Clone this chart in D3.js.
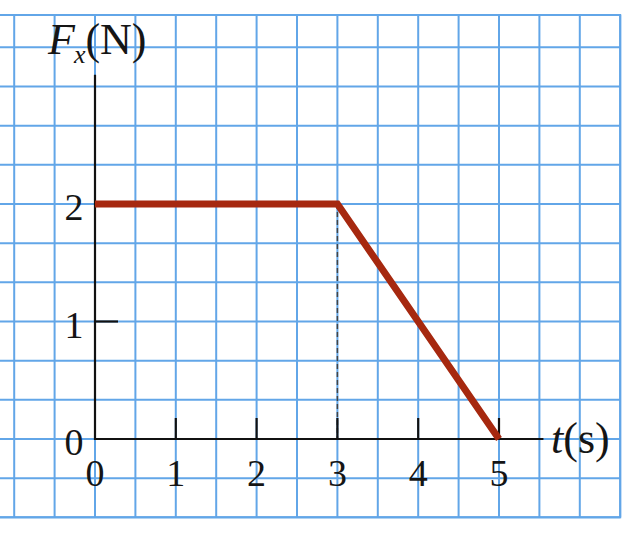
<!DOCTYPE html>
<html>
<head>
<meta charset="utf-8">
<script src="https://cdn.jsdelivr.net/npm/d3@7"></script>
<style>
  html, body { margin: 0; padding: 0; background: #fff; }
  svg { display: block; }
  text { font-family: "Liberation Serif", "Times New Roman", serif; fill: #151515; }
</style>
</head>
<body>
<svg id="chart" width="640" height="537"></svg>
<script>
// Data
const timeVals = [0, 3, 5];
const forceVals = [2, 2, 0];
const xTicks = [1, 2, 3, 4, 5];
const xTickLabels = ["0", "1", "2", "3", "4", "5"];
const yTicks = [1, 2];
const yTickLabels = ["0", "1", "2"];
const gridX = d3.range(-2, 6.5001, 0.5);
const gridY = d3.range(-2, 10.001, 1).map(n => n / 3);

const svg = d3.select("#chart");
const x = d3.scaleLinear().domain([0, 5]).range([95, 499]);
const y = d3.scaleLinear().domain([0, 2]).range([439, 204]);

const gridColor = "#62a6e8";
const gLeft = x(-2), gRight = x(6.5), gTop = 15, gBottom = y(-2 / 3);

// grid
const g = svg.append("g");
g.selectAll("line.gx").data(gridX).join("line")
  .attr("x1", d => x(d)).attr("x2", d => x(d))
  .attr("y1", gTop).attr("y2", gBottom)
  .attr("stroke", gridColor).attr("stroke-width", 2);
g.selectAll("line.gy").data(gridY).join("line")
  .attr("y1", d => y(d)).attr("y2", d => y(d))
  .attr("x1", gLeft).attr("x2", gRight)
  .attr("stroke", gridColor).attr("stroke-width", 2);
g.append("rect")
  .attr("x", gLeft).attr("y", gTop)
  .attr("width", gRight - gLeft).attr("height", gBottom - gTop)
  .attr("fill", "none").attr("stroke", gridColor).attr("stroke-width", 2);

// dashed guide at t=3
svg.append("line")
  .attr("x1", x(3)).attr("x2", x(3))
  .attr("y1", y(2)).attr("y2", y(0))
  .attr("stroke", "#444").attr("stroke-width", 1.5)
  .attr("stroke-dasharray", "5,3");

// axes
svg.append("line")
  .attr("x1", x(0)).attr("x2", x(0))
  .attr("y1", y(0) + 1).attr("y2", y(3.1))
  .attr("stroke", "#111").attr("stroke-width", 2.2);
svg.append("line")
  .attr("x1", x(0) - 1).attr("x2", x(5.55))
  .attr("y1", y(0)).attr("y2", y(0))
  .attr("stroke", "#111").attr("stroke-width", 2.2);

// ticks
svg.selectAll("line.xt").data(xTicks).join("line")
  .attr("x1", d => x(d)).attr("x2", d => x(d))
  .attr("y1", y(0)).attr("y2", y(0) - 21)
  .attr("stroke", "#111").attr("stroke-width", 2.2);
svg.selectAll("line.yt").data(yTicks).join("line")
  .attr("x1", x(0)).attr("x2", x(0) + 23)
  .attr("y1", d => y(d)).attr("y2", d => y(d))
  .attr("stroke", "#111").attr("stroke-width", 2.2);

// tick labels
svg.selectAll("text.xl").data(xTickLabels).join("text")
  .attr("x", (d, i) => x(i)).attr("y", y(0) + 47)
  .attr("text-anchor", "middle")
  .attr("font-size", 38)
  .text(d => d);
svg.selectAll("text.yl").data(yTickLabels).join("text")
  .attr("x", x(0) - 21).attr("y", (d, i) => y(i) + 16)
  .attr("text-anchor", "middle")
  .attr("font-size", 38)
  .text(d => d);

// force line
const line = d3.line().x(d => x(d[0])).y(d => y(d[1]));
svg.append("path")
  .datum(timeVals.map((t, i) => [t, forceVals[i]]))
  .attr("d", line)
  .attr("fill", "none")
  .attr("stroke", "#a6280f")
  .attr("stroke-width", 7)
  .attr("stroke-linejoin", "miter");

// axis titles
const yt = svg.append("text").attr("x", 48).attr("y", 54).attr("font-size", 44);
yt.append("tspan").attr("font-style", "italic").text("F");
yt.append("tspan").attr("font-style", "italic").attr("font-size", 26).attr("dy", 9).attr("dx", -1).text("x");
yt.append("tspan").attr("dy", -9).text("(N)");

const xt = svg.append("text").attr("x", 551).attr("y", 453).attr("font-size", 44);
xt.append("tspan").attr("font-style", "italic").text("t");
xt.append("tspan").text("(s)");
</script>
</body>
</html>
